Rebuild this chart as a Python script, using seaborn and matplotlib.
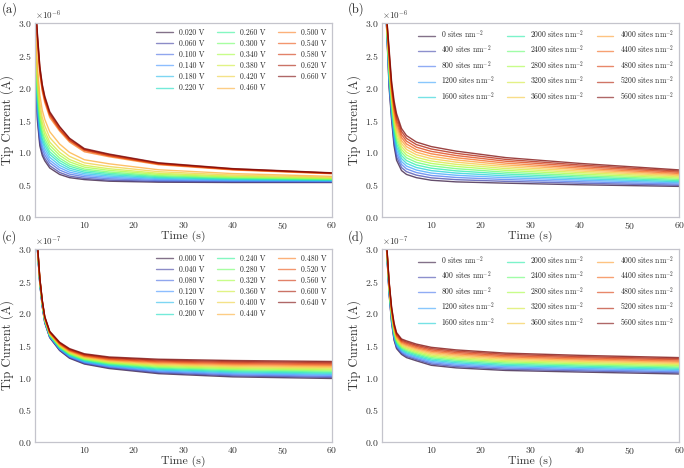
import numpy as np
import pandas as pd
import matplotlib
matplotlib.use("Agg")
import matplotlib.pyplot as plt
import seaborn as sns

# --- panel (a): measured transients, current in 1e-6 A ---
time_a = [0.2, 0.5, 1, 1.5, 2, 3, 5, 7, 10, 15, 25, 40, 60]
volts_a = ["0.020 V", "0.060 V", "0.100 V", "0.140 V", "0.180 V", "0.220 V",
           "0.260 V", "0.300 V", "0.340 V", "0.380 V", "0.420 V", "0.460 V",
           "0.500 V", "0.540 V", "0.580 V", "0.620 V", "0.660 V"]
current_a = [
    [2.20, 1.50, 1.10, 0.95, 0.87, 0.76, 0.66, 0.61, 0.58, 0.555, 0.54, 0.535, 0.535],
    [2.24, 1.55, 1.15, 0.99, 0.91, 0.795, 0.69, 0.634, 0.599, 0.572, 0.552, 0.544, 0.541],
    [2.29, 1.62, 1.21, 1.05, 0.96, 0.84, 0.727, 0.665, 0.623, 0.593, 0.567, 0.554, 0.549],
    [2.34, 1.69, 1.27, 1.10, 1.01, 0.88, 0.764, 0.695, 0.647, 0.614, 0.582, 0.565, 0.556],
    [2.39, 1.76, 1.33, 1.16, 1.06, 0.925, 0.80, 0.726, 0.671, 0.635, 0.597, 0.576, 0.564],
    [2.44, 1.82, 1.40, 1.21, 1.11, 0.97, 0.838, 0.756, 0.695, 0.656, 0.612, 0.587, 0.571],
    [2.49, 1.89, 1.46, 1.27, 1.16, 1.01, 0.875, 0.787, 0.719, 0.677, 0.627, 0.597, 0.579],
    [2.54, 1.96, 1.52, 1.32, 1.21, 1.06, 0.912, 0.817, 0.743, 0.698, 0.642, 0.608, 0.586],
    [2.60, 2.04, 1.59, 1.39, 1.27, 1.11, 0.956, 0.854, 0.772, 0.723, 0.66, 0.621, 0.595],
    [2.66, 2.12, 1.67, 1.46, 1.33, 1.16, 1.00, 0.891, 0.801, 0.748, 0.678, 0.634, 0.604],
    [2.74, 2.23, 1.76, 1.54, 1.41, 1.23, 1.06, 0.939, 0.839, 0.782, 0.702, 0.651, 0.616],
    [2.84, 2.36, 1.89, 1.65, 1.51, 1.32, 1.13, 1.00, 0.887, 0.824, 0.732, 0.673, 0.631],
    [3.10, 2.72, 2.21, 1.94, 1.77, 1.54, 1.33, 1.16, 1.01, 0.933, 0.81, 0.729, 0.67],
    [3.13, 2.76, 2.24, 1.97, 1.80, 1.57, 1.35, 1.18, 1.03, 0.946, 0.819, 0.735, 0.675],
    [3.15, 2.78, 2.27, 2.00, 1.82, 1.59, 1.36, 1.19, 1.04, 0.954, 0.825, 0.739, 0.678],
    [3.18, 2.82, 2.31, 2.03, 1.85, 1.61, 1.39, 1.21, 1.05, 0.967, 0.834, 0.746, 0.682],
    [3.20, 2.85, 2.33, 2.05, 1.87, 1.63, 1.40, 1.22, 1.06, 0.975, 0.84, 0.75, 0.685],
]

# --- panel (b): simulated, current in 1e-6 A ---
time_b = [0.9, 1.5, 2, 2.5, 3, 4, 5, 7, 10, 15, 25, 40, 60]
sites = ["0", "400", "800", "1200", "1600", "2000", "2400", "2800", "3200",
         "3600", "4000", "4400", "4800", "5200", "5600"]
current_b = [
    [3.100, 2.000, 1.500, 1.100, 0.880, 0.720, 0.660, 0.610, 0.570, 0.545, 0.525, 0.500, 0.475],
    [3.107, 2.043, 1.543, 1.150, 0.931, 0.766, 0.703, 0.649, 0.607, 0.579, 0.553, 0.524, 0.493],
    [3.114, 2.086, 1.586, 1.200, 0.983, 0.813, 0.746, 0.689, 0.644, 0.613, 0.581, 0.547, 0.511],
    [3.121, 2.129, 1.629, 1.250, 1.034, 0.859, 0.789, 0.728, 0.681, 0.647, 0.610, 0.571, 0.530],
    [3.129, 2.171, 1.671, 1.300, 1.086, 0.906, 0.831, 0.767, 0.719, 0.681, 0.638, 0.594, 0.548],
    [3.136, 2.214, 1.714, 1.350, 1.137, 0.952, 0.874, 0.806, 0.756, 0.715, 0.666, 0.618, 0.566],
    [3.143, 2.257, 1.757, 1.400, 1.189, 0.999, 0.917, 0.846, 0.793, 0.749, 0.694, 0.641, 0.584],
    [3.150, 2.300, 1.800, 1.450, 1.240, 1.045, 0.960, 0.885, 0.830, 0.783, 0.723, 0.665, 0.603],
    [3.157, 2.343, 1.843, 1.500, 1.291, 1.091, 1.003, 0.924, 0.867, 0.816, 0.751, 0.689, 0.621],
    [3.164, 2.386, 1.886, 1.550, 1.343, 1.138, 1.046, 0.964, 0.904, 0.850, 0.779, 0.712, 0.639],
    [3.171, 2.429, 1.929, 1.600, 1.394, 1.184, 1.089, 1.003, 0.941, 0.884, 0.807, 0.736, 0.657],
    [3.179, 2.471, 1.971, 1.650, 1.446, 1.231, 1.131, 1.042, 0.979, 0.918, 0.835, 0.759, 0.675],
    [3.186, 2.514, 2.014, 1.700, 1.497, 1.277, 1.174, 1.081, 1.016, 0.952, 0.864, 0.783, 0.694],
    [3.193, 2.557, 2.057, 1.750, 1.549, 1.324, 1.217, 1.121, 1.053, 0.986, 0.892, 0.806, 0.712],
    [3.200, 2.600, 2.100, 1.800, 1.600, 1.370, 1.260, 1.160, 1.090, 1.020, 0.920, 0.830, 0.730],
]

# --- panel (c): measured transients, current in 1e-7 A ---
time_c = [0.2, 0.5, 1, 1.5, 2, 3, 5, 7, 10, 15, 25, 40, 60]
volts_c = ["0.000 V", "0.040 V", "0.080 V", "0.120 V", "0.160 V", "0.200 V",
           "0.240 V", "0.280 V", "0.320 V", "0.360 V", "0.400 V", "0.440 V",
           "0.480 V", "0.520 V", "0.560 V", "0.600 V", "0.640 V"]
current_c = [
    [3.600, 3.000, 2.450, 2.100, 1.850, 1.620, 1.420, 1.300, 1.210, 1.140, 1.060, 1.010, 0.985],
    [3.606, 3.006, 2.456, 2.106, 1.856, 1.626, 1.428, 1.309, 1.220, 1.151, 1.074, 1.026, 1.002],
    [3.613, 3.013, 2.463, 2.113, 1.863, 1.633, 1.436, 1.319, 1.230, 1.163, 1.088, 1.042, 1.018],
    [3.619, 3.019, 2.469, 2.119, 1.869, 1.639, 1.444, 1.328, 1.240, 1.174, 1.102, 1.058, 1.035],
    [3.625, 3.025, 2.475, 2.125, 1.875, 1.645, 1.453, 1.338, 1.250, 1.185, 1.116, 1.074, 1.051],
    [3.631, 3.031, 2.481, 2.131, 1.881, 1.651, 1.461, 1.347, 1.260, 1.196, 1.130, 1.090, 1.068],
    [3.638, 3.038, 2.488, 2.138, 1.888, 1.658, 1.469, 1.356, 1.270, 1.208, 1.144, 1.106, 1.084],
    [3.644, 3.044, 2.494, 2.144, 1.894, 1.664, 1.477, 1.366, 1.280, 1.219, 1.158, 1.122, 1.101],
    [3.650, 3.050, 2.500, 2.150, 1.900, 1.670, 1.485, 1.375, 1.290, 1.230, 1.173, 1.138, 1.118],
    [3.656, 3.056, 2.506, 2.156, 1.906, 1.676, 1.493, 1.384, 1.300, 1.241, 1.187, 1.153, 1.134],
    [3.663, 3.063, 2.513, 2.163, 1.913, 1.683, 1.501, 1.394, 1.310, 1.253, 1.201, 1.169, 1.151],
    [3.669, 3.069, 2.519, 2.169, 1.919, 1.689, 1.509, 1.403, 1.320, 1.264, 1.215, 1.185, 1.167],
    [3.675, 3.075, 2.525, 2.175, 1.925, 1.695, 1.518, 1.413, 1.330, 1.275, 1.229, 1.201, 1.184],
    [3.681, 3.081, 2.531, 2.181, 1.931, 1.701, 1.526, 1.422, 1.340, 1.286, 1.243, 1.217, 1.200],
    [3.688, 3.088, 2.538, 2.188, 1.938, 1.708, 1.534, 1.431, 1.350, 1.298, 1.257, 1.233, 1.217],
    [3.694, 3.094, 2.544, 2.194, 1.944, 1.714, 1.542, 1.441, 1.360, 1.309, 1.271, 1.249, 1.233],
    [3.700, 3.100, 2.550, 2.200, 1.950, 1.720, 1.550, 1.450, 1.370, 1.320, 1.285, 1.265, 1.250],
]

# --- panel (d): simulated, current in 1e-7 A ---
time_d = [0.9, 1.5, 2, 2.5, 3, 4, 5, 7, 10, 15, 25, 40, 60]
current_d = [
    [3.100, 2.300, 1.850, 1.580, 1.450, 1.360, 1.310, 1.260, 1.190, 1.150, 1.110, 1.085, 1.055],
    [3.107, 2.314, 1.868, 1.599, 1.468, 1.377, 1.329, 1.279, 1.210, 1.170, 1.129, 1.104, 1.073],
    [3.114, 2.329, 1.886, 1.619, 1.486, 1.394, 1.347, 1.297, 1.230, 1.190, 1.149, 1.122, 1.091],
    [3.121, 2.343, 1.904, 1.638, 1.504, 1.411, 1.366, 1.316, 1.250, 1.210, 1.168, 1.141, 1.110],
    [3.129, 2.357, 1.921, 1.657, 1.521, 1.429, 1.384, 1.334, 1.270, 1.230, 1.187, 1.159, 1.128],
    [3.136, 2.371, 1.939, 1.676, 1.539, 1.446, 1.403, 1.353, 1.290, 1.250, 1.206, 1.178, 1.146],
    [3.143, 2.386, 1.957, 1.696, 1.557, 1.463, 1.421, 1.371, 1.310, 1.270, 1.226, 1.196, 1.164],
    [3.150, 2.400, 1.975, 1.715, 1.575, 1.480, 1.440, 1.390, 1.330, 1.290, 1.245, 1.215, 1.183],
    [3.157, 2.414, 1.993, 1.734, 1.593, 1.497, 1.459, 1.409, 1.350, 1.310, 1.264, 1.234, 1.201],
    [3.164, 2.429, 2.011, 1.754, 1.611, 1.514, 1.477, 1.427, 1.370, 1.330, 1.284, 1.252, 1.219],
    [3.171, 2.443, 2.029, 1.773, 1.629, 1.531, 1.496, 1.446, 1.390, 1.350, 1.303, 1.271, 1.237],
    [3.179, 2.457, 2.046, 1.792, 1.646, 1.549, 1.514, 1.464, 1.410, 1.370, 1.322, 1.289, 1.255],
    [3.186, 2.471, 2.064, 1.811, 1.664, 1.566, 1.533, 1.483, 1.430, 1.390, 1.341, 1.308, 1.274],
    [3.193, 2.486, 2.082, 1.831, 1.682, 1.583, 1.551, 1.501, 1.450, 1.410, 1.361, 1.326, 1.292],
    [3.200, 2.500, 2.100, 1.850, 1.700, 1.600, 1.570, 1.520, 1.470, 1.430, 1.380, 1.345, 1.310],
]

density_labels = [f"{s} sites nm$^{{-2}}$" for s in sites]

sns.set_style("white")
plt.rcParams.update({
    "font.family": "serif",
    "font.serif": ["cmr10", "DejaVu Serif"],
    "mathtext.fontset": "cm",
    "axes.formatter.use_mathtext": True,
    "axes.unicode_minus": False,
    "axes.edgecolor": "#c4c4cc",
    "axes.linewidth": 0.9,
    "xtick.direction": "in",
    "ytick.direction": "in",
    "xtick.color": "#b8b8c0",
    "ytick.color": "#b8b8c0",
    "xtick.labelcolor": "#333333",
    "ytick.labelcolor": "#333333",
    "xtick.major.size": 2.5,
    "ytick.major.size": 2.5,
    "xtick.major.pad": 2,
    "ytick.major.pad": 2,
})


def to_frame(times, table, labels, scale):
    rows = []
    for lab, vals in zip(labels, table):
        for t, v in zip(times, vals):
            rows.append((t, v * scale, lab))
    return pd.DataFrame(rows, columns=["time", "current", "label"])


fig = plt.figure(figsize=(6.84, 4.68), dpi=100)
boxes = {"a": [0.051, 0.536, 0.434, 0.415], "b": [0.558, 0.536, 0.435, 0.415],
         "c": [0.051, 0.056, 0.434, 0.412], "d": [0.558, 0.056, 0.435, 0.412]}

panels = [
    ("a", time_a, current_a, volts_a, 1e-6),
    ("b", time_b, current_b, density_labels, 1e-6),
    ("c", time_c, current_c, volts_c, 1e-7),
    ("d", time_d, current_d, density_labels, 1e-7),
]

for key, times, table, labels, scale in panels:
    ax = fig.add_axes(boxes[key])
    df = to_frame(times, table, labels, scale)
    # full turbo range, dark purple -> dark red
    pal = [tuple(c) for c in plt.cm.turbo(np.linspace(0, 1, len(labels)))]
    sns.lineplot(data=df, x="time", y="current", hue="label", hue_order=labels,
                 palette=pal, estimator=None, sort=False, linewidth=1.0,
                 alpha=0.75, ax=ax, legend=False)
    # legend handles built by hand so the label order / columns match
    handles = []
    for lab, col in zip(labels, pal):
        h, = ax.plot([], [], color=col, alpha=0.6, lw=1.0, label=lab)
        handles.append(h)
    ax.legend(handles=handles, ncol=3, frameon=False, fontsize=5.5,
              loc="upper right", handlelength=2.2, columnspacing=1.6,
              labelspacing=0.35, borderaxespad=0.3)
    ax.set_xlim(0, 60)
    ax.set_ylim(0, 3.0 * scale)
    ax.set_xticks([10, 20, 30, 40, 50, 60])
    ax.set_yticks(np.arange(0, 3.01, 0.5) * scale)
    ax.tick_params(labelsize=7)
    ax.set_ylabel("Tip Current (A)", fontsize=9, color="#333333", labelpad=3)
    ax.set_xlabel("Time (s)", fontsize=8.5, color="#333333", labelpad=0)
    ax.yaxis.get_offset_text().set_fontsize(6.5)
    ax.yaxis.get_offset_text().set_color("#333333")

fig.text(0.003, 0.995, "(a)", fontsize=9, va="top")
fig.text(0.508, 0.995, "(b)", fontsize=9, va="top")
fig.text(0.003, 0.508, "(c)", fontsize=9, va="top")
fig.text(0.508, 0.508, "(d)", fontsize=9, va="top")

fig.savefig("out.png", dpi=100)
